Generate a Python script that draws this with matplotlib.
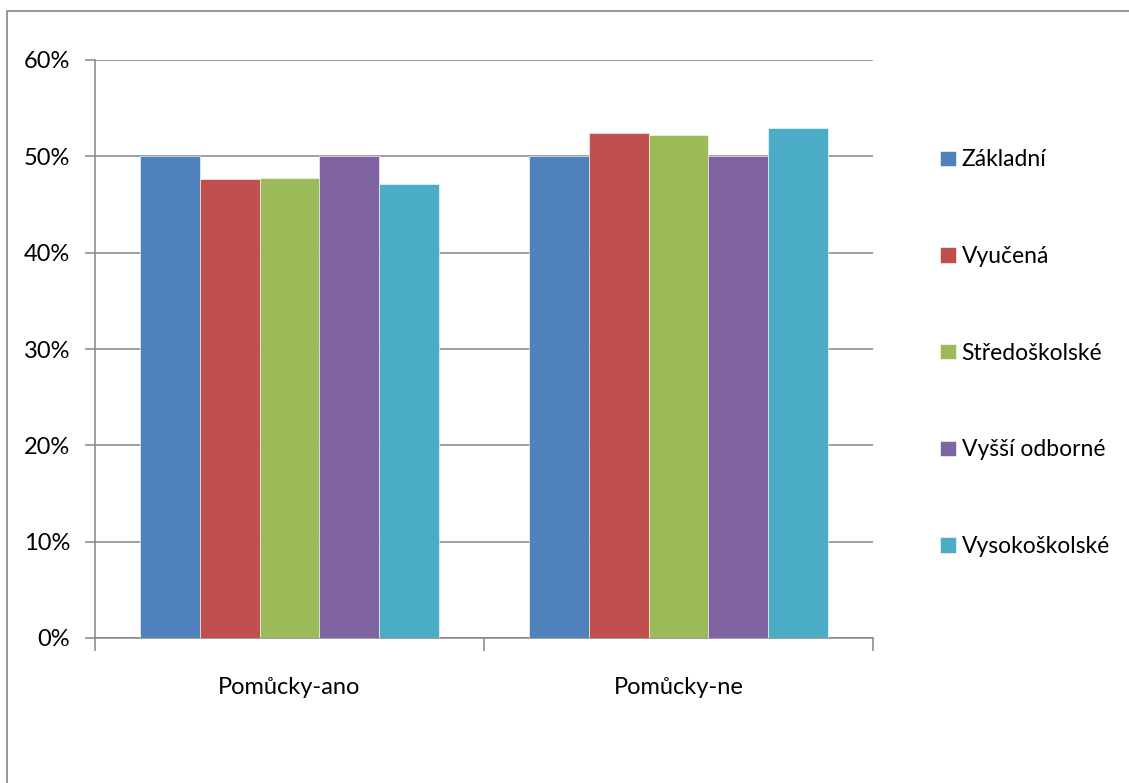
import matplotlib.pyplot as plt
import numpy as np
from matplotlib.patches import Rectangle

plt.rcParams['font.family'] = ['Lato', 'DejaVu Sans']

categories = ["Pomůcky-ano", "Pomůcky-ne"]
series = ["Základní", "Vyučená", "Středoškolské", "Vyšší odborné", "Vysokoškolské"]
values = {
    "Základní": [50.0, 50.0],
    "Vyučená": [47.6, 52.4],
    "Středoškolské": [47.8, 52.2],
    "Vyšší odborné": [50.0, 50.0],
    "Vysokoškolské": [47.1, 52.9],
}
colors = ["#4f81bd", "#c0504d", "#9bbb59", "#8064a2", "#4bacc6"]
yticks = [0, 10, 20, 30, 40, 50, 60]

W, H = 1129, 783
fig = plt.figure(figsize=(W / 100, H / 100), dpi=100)
ax = fig.add_axes([95 / W, 1 - 638 / H, (873 - 95) / W, (638 - 60) / H])

grid_c = "#868686"
fs = 17
n = len(series)
bw = 1 / 1.3 / n
x = np.arange(len(categories))
for i, (name, c) in enumerate(zip(series, colors)):
    ax.bar(x - bw * n / 2 + bw * (i + 0.5), values[name], width=bw, color=c,
           edgecolor="white", linewidth=0.4, label=name, zorder=3)

ax.set_xlim(-0.5, 1.5)
ax.set_ylim(0, 60)
ax.set_yticks(yticks)
ax.set_yticklabels([f"{t}%" for t in yticks])
ax.yaxis.grid(True, color=grid_c, linewidth=1.1, zorder=0)
ax.set_xticks([-0.5, 0.5, 1.5], minor=False)
ax.set_xticklabels([])
ax.set_xticks(x, minor=True)
ax.set_xticklabels(categories, minor=True)
ax.tick_params(axis="x", which="major", length=9, color=grid_c, width=1.1)
ax.tick_params(axis="x", which="minor", length=0, pad=28, labelsize=fs)
ax.tick_params(axis="y", length=7, color=grid_c, width=1.1, pad=11, labelsize=fs)
for s in ["top", "right"]:
    ax.spines[s].set_visible(False)
for s in ["left", "bottom"]:
    ax.spines[s].set_color(grid_c)
    ax.spines[s].set_linewidth(1.1)

# legend as a vertical column of entries to the right of the plot
leg = ax.legend(loc="upper left", bbox_to_anchor=(929 / W, 1 - 138 / H),
                bbox_transform=fig.transFigure, frameon=False, fontsize=16.5,
                handlelength=0.66, handleheight=0.66, handletextpad=0.26,
                labelspacing=3.3, borderpad=0)

# outer chart frame
fig.patches.append(Rectangle((7 / W, -0.1), 1.2, 1 - 11 / H + 0.1,
                             transform=fig.transFigure, fill=False,
                             edgecolor=grid_c, linewidth=1.2))

fig.savefig("out.png", dpi=100)
